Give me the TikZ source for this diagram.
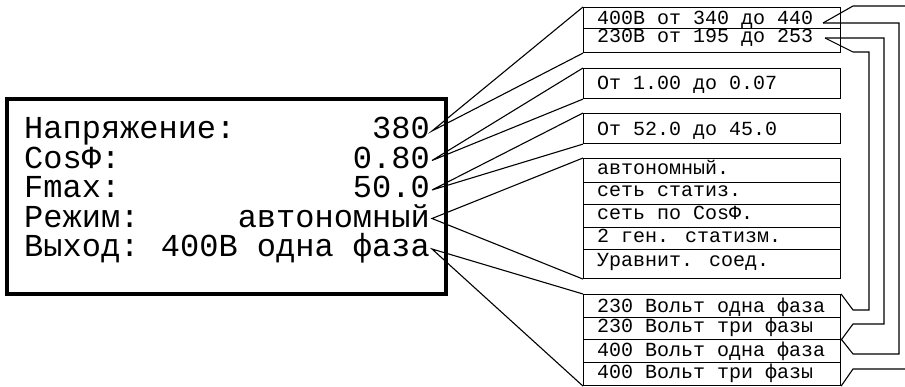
\documentclass[tikz,border=0pt]{standalone}
\usepackage{fontspec}
\newfontfamily\lcdfont{Liberation Mono}
\usetikzlibrary{calc}

\begin{document}
\begin{tikzpicture}[x=1pt,y=-1pt,
  panel/.style={draw, line width=4pt},
  lcdtext/.style={font=\lcdfont\fontsize{32}{36}\selectfont, inner sep=0pt},
  label/.style={lcdtext, anchor=base west},
  value/.style={lcdtext, anchor=base east},
  cell/.style={draw, line width=1.1pt, minimum width=257pt, anchor=north west, inner sep=0pt},
  celltext/.style={font=\lcdfont\fontsize{20}{24}\selectfont, inner sep=0pt, anchor=base west},
  wire/.style={line width=1.1pt, line join=miter}]
\useasboundingbox (0,0) rectangle (905,387);

% display panel
\draw[panel] (7,99) rectangle (446,294);
\node[label] (l1) at (24,139) {Напряжение:};
\node[label] (l2) at (24,168.5) {CosФ:};
\node[label] (l3) at (24,198) {Fmax:};
\node[label] (l4) at (24,227.5) {Режим:};
\node[label] (l5) at (24,257) {Выход:};
\node[value] (v1) at (430,139) {380};
\node[value] (v2) at (430,168.5) {0.80};
\node[value] (v3) at (430,198) {50.0};
\node[value] (v4) at (430,227.5) {автономный};
\node[value] (v5) at (430,257) {400В одна фаза};

% tips of the value pointers
\coordinate (p1) at ($(v1.base east)+(2,-8)$);
\coordinate (p2) at ($(v2.base east)+(2,-8)$);
\coordinate (p3) at ($(v3.base east)+(2,-8)$);
\coordinate (p4) at ($(v4.base east)+(2,-9)$);
\coordinate (p5) at ($(v5.base east)+(2,-8)$);

% option lists
\node[cell, minimum height=21pt] (cA) at (583,7) {};
\node[cell, minimum height=24pt] (cB) at (583,28) {};
\node[cell, minimum height=30pt] (cC) at (583,68) {};
\node[cell, minimum height=30pt] (cD) at (583,113) {};
\node[cell, minimum height=24pt] (cE1) at (583,158) {};
\node[cell, minimum height=22pt] (cE2) at (583,182) {};
\node[cell, minimum height=23pt] (cE3) at (583,204) {};
\node[cell, minimum height=22pt] (cE4) at (583,227) {};
\node[cell, minimum height=29pt] (cE5) at (583,249) {};
\node[cell, minimum height=23pt] (cF1) at (583,294) {};
\node[cell, minimum height=22pt] (cF2) at (583,317) {};
\node[cell, minimum height=23pt] (cF3) at (583,339) {};
\node[cell, minimum height=23pt] (cF4) at (583,362) {};

\node[celltext] (tA) at ($(cA.north west)+(14,18)$) {400В от 340 до 440};
\node[celltext] (tB) at ($(cB.north west)+(14,15)$) {230В от 195 до 253};
\node[celltext] (tC) at ($(cC.north west)+(14,22)$) {От 1.00 до 0.07};
\node[celltext] (tD) at ($(cD.north west)+(14,23)$) {От 52.0 до 45.0};
\node[celltext] (tE1) at ($(cE1.north west)+(14,17)$) {автономный.};
\node[celltext] (tE2) at ($(cE2.north west)+(14,15)$) {сеть статиз.};
\node[celltext] (tE3) at ($(cE3.north west)+(14,16)$) {сеть по CosФ.};
\node[celltext] (tE4) at ($(cE4.north west)+(14,16)$) {2 ген. статизм.};
\node[celltext] (tE5) at ($(cE5.north west)+(14,18)$) {Уравнит. соед.};
\node[celltext] (tF1) at ($(cF1.north west)+(14,19)$) {230 Вольт одна фаза};
\node[celltext] (tF2) at ($(cF2.north west)+(14,16)$) {230 Вольт три фазы};
\node[celltext] (tF3) at ($(cF3.north west)+(14,17)$) {400 Вольт одна фаза};
\node[celltext] (tF4) at ($(cF4.north west)+(14,16)$) {400 Вольт три фазы};

% pointers from the panel to the lists
\draw[wire] (cA.north west) -- (p1) -- (cB.south west);
\draw[wire] (cC.north west) -- (p2) -- (cC.south west);
\draw[wire] (cD.north west) -- (p3) -- (cD.south west);
\draw[wire] (cE1.north west) -- (p4) -- (cE5.south west);
\draw[wire] (cF1.north west) -- (p5) -- (cF4.south west);

% links between voltage ranges and output modes
\coordinate (q440) at (823,23);
\coordinate (q253) at (825,38);
\coordinate (topout) at (905,6);
\coordinate (botout) at (905,369);
\draw[wire] (q440) -- (853,6) -- (topout);
\draw[wire] (q440) -- (899,23) -- (899,354) -- (853,354) -- (cF3.north east);
\draw[wire] (q253) -- (884,38) -- (884,324) -- (853,324) -- (cF2.south east);
\draw[wire] (q253) -- (853,52) -- (869,52) -- (869,310) -- (853,310) -- (cF1.north east);
\draw[wire] (cF4.south east) -- (853,369) -- (botout);
\end{tikzpicture}
\end{document}
